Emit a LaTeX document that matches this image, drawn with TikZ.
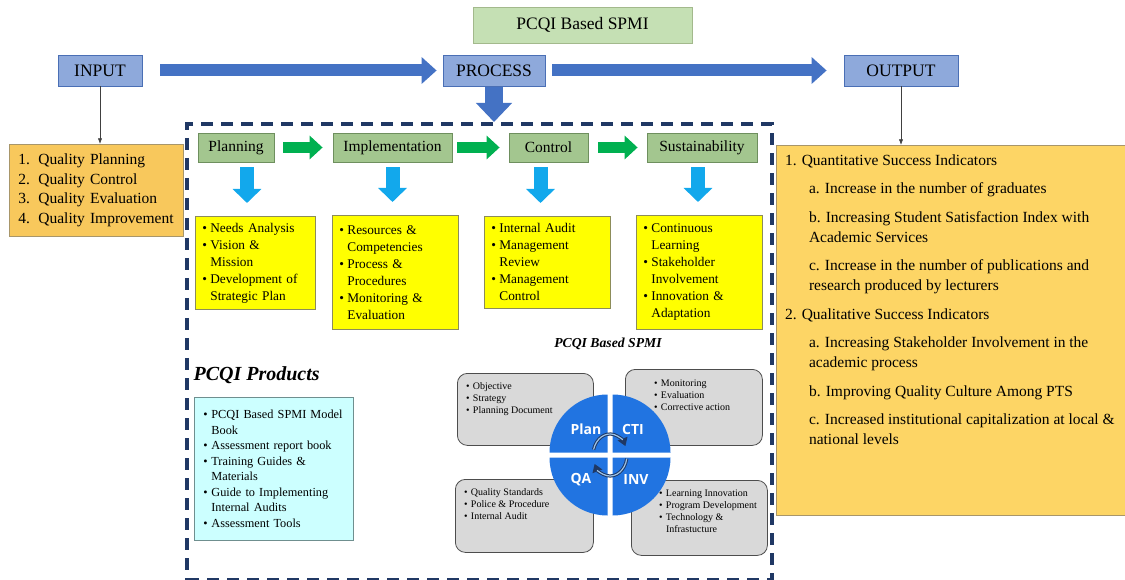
\documentclass[tikz,border=0pt]{standalone}
\usepackage{fontspec}
\setmainfont{Liberation Serif}
\newfontfamily\quadfont{Open Sans}
\usepackage{xcolor}
\usetikzlibrary{arrows.meta, positioning, calc}
\definecolor{TitleGreen}{HTML}{C5E0B4}
\definecolor{TitleEdge}{HTML}{A3B98C}
\definecolor{IOBlue}{HTML}{8EA9DB}
\definecolor{IOEdge}{HTML}{4A6FB5}
\definecolor{BigBlue}{HTML}{4472C4}
\definecolor{StageGreen}{HTML}{A3C68F}
\definecolor{StageEdge}{HTML}{6E8F5E}
\definecolor{ArrowGreen}{HTML}{00B050}
\definecolor{ArrowCyan}{HTML}{12A8EC}
\definecolor{ListYellow}{HTML}{FFFF00}
\definecolor{ListEdge}{HTML}{8C8C5A}
\definecolor{QualOrange}{HTML}{F8C85C}
\definecolor{OutOrange}{HTML}{FDD565}
\definecolor{OrangeEdge}{HTML}{A8966A}
\definecolor{ProdCyan}{HTML}{CCFFFF}
\definecolor{ProdEdge}{HTML}{6F8F8F}
\definecolor{GrayFill}{HTML}{D9D9D9}
\definecolor{GrayEdge}{HTML}{4D4D4D}
\definecolor{QuadBlue}{HTML}{2174E1}
\definecolor{CycleDark}{HTML}{1F3864}
\definecolor{CycleLight}{HTML}{9DC3E6}
\definecolor{FrameNavy}{HTML}{203864}

\newcommand{\bul}[1][8pt]{\makebox[#1][l]{\textbullet}}
\newcommand{\bind}[1][8pt]{\hspace*{#1}}

\begin{document}
\begin{tikzpicture}[x=1pt, y=-1pt, node distance=1cm, >=Latex]
    \tikzstyle{titlebox} = [rectangle, draw=TitleEdge, fill=TitleGreen, thick, minimum height=36pt, font=\fontsize{17.5}{21}\selectfont]
    \tikzstyle{iobox} = [rectangle, draw=IOEdge, fill=IOBlue, thick, minimum height=31pt, font=\fontsize{17.5}{21}\selectfont]
    \tikzstyle{stagebox} = [rectangle, draw=StageEdge, fill=StageGreen, thick, minimum height=29pt, font=\fontsize{15.5}{19}\selectfont]
    \tikzstyle{listbox} = [rectangle, draw=ListEdge, fill=ListYellow, thick, anchor=north west, inner xsep=7pt, align=left, font=\fontsize{13.3}{17}\selectfont]
    \tikzstyle{qualbox} = [rectangle, draw=OrangeEdge, fill=QualOrange, thick, anchor=north west, inner xsep=9pt, align=left, font=\fontsize{15.5}{19.5}\selectfont]
    \tikzstyle{outbox} = [rectangle, draw=OrangeEdge, fill=OutOrange, thick, anchor=north west]
    \tikzstyle{outtext} = [inner sep=0pt, outer sep=0pt, align=left, font=\fontsize{15.5}{20}\selectfont]
    \tikzstyle{prodbox} = [rectangle, draw=ProdEdge, fill=ProdCyan, thick, anchor=north west, inner xsep=9pt, align=left, font=\fontsize{12.3}{15.5}\selectfont]
    \tikzstyle{graybox} = [rectangle, draw=GrayEdge, fill=GrayFill, thick, rounded corners=10pt, anchor=north west]
    \tikzstyle{smalltext} = [inner sep=0pt, outer sep=0pt, align=left, font=\fontsize{10}{11.8}\selectfont]
    \tikzstyle{quadlabel} = [text=white, font=\quadfont\bfseries\fontsize{14}{16}\selectfont]
    \tikzstyle{heading} = [font=\bfseries\itshape]
    \tikzstyle{dashframe} = [rectangle, draw=FrameNavy, line width=4pt, dash pattern=on 12pt off 8pt, anchor=north west]
    \tikzstyle{bigline} = [draw=BigBlue, line width=12pt, -{Triangle[length=15pt, width=26pt]}]
    \tikzstyle{greenline} = [draw=ArrowGreen, line width=11pt, -{Triangle[length=13pt, width=23pt]}]
    \tikzstyle{cyanline} = [draw=ArrowCyan, line width=14pt, -{Triangle[length=14pt, width=28pt]}, shorten <=5pt, shorten >=13pt]
    \tikzstyle{thinline} = [draw, ->, black!75, semithick]

    \useasboundingbox (0,0) rectangle (1125,580);

    % input - process - output
    \node [titlebox, minimum width=219pt] (title) at (582.5,25) {PCQI Based SPMI};
    \node [iobox, minimum width=84pt] (input) at (100,70.5) {INPUT};
    \node [iobox, minimum width=102pt] (process) at (494,70.5) {PROCESS};
    \node [iobox, minimum width=114pt] (output) at (901,70.5) {OUTPUT};
    \path [bigline, shorten <=18pt, shorten >=6pt] (input) -- (process);
    \path [bigline, shorten <=7pt, shorten >=17pt] (process) -- (output);

    \node [dashframe, minimum width=585pt, minimum height=456pt] (frame) at (185,122) {};
    \path [bigline, line width=18pt, -{Triangle[length=19pt, width=35pt]}, shorten <=1pt] (process.south) -- (process.south |- frame.north);

    \node [qualbox, text width=156pt, minimum height=92pt] (quality) at (9,144)
        {\makebox[20pt][l]{1.}Quality Planning\\ \makebox[20pt][l]{2.}Quality Control\\
         \makebox[20pt][l]{3.}Quality Evaluation\\ \makebox[20pt][l]{4.}Quality Improvement};
    \path [thinline] (input) -- (input |- quality.north);

    \node [outbox, minimum width=352pt, minimum height=370pt] (outbox) at (776,145) {};
    \node [outtext, below right=9.5pt and 9pt of outbox.north west] (outlist)
        {1. Quantitative Success Indicators\\[8.5pt]
         \bind[24pt]a. Increase in the number of graduates\\[8.5pt]
         \bind[24pt]b. Increasing Student Satisfaction Index with\\
         \bind[24pt]Academic Services\\[8.5pt]
         \bind[24pt]c. Increase in the number of publications and\\
         \bind[24pt]research produced by lecturers\\[8.5pt]
         2. Qualitative Success Indicators\\[8.5pt]
         \bind[24pt]a. Increasing Stakeholder Involvement in the\\
         \bind[24pt]academic process\\[8.5pt]
         \bind[24pt]b. Improving Quality Culture Among PTS\\[8.5pt]
         \bind[24pt]c. Increased institutional capitalization at local \&\\
         \bind[24pt]national levels};
    \path [thinline] (output) -- (output |- outbox.north);

    % stages
    \node [stagebox, minimum width=76pt] (planning) at (236,147.5) {Planning};
    \node [stagebox, minimum width=119pt] (implementation) at (392.5,147.5) {Implementation};
    \node [stagebox, minimum width=79pt] (control) at (548.5,147.5) {Control};
    \node [stagebox, minimum width=110pt] (sustainability) at (702,147.5) {Sustainability};
    \path [greenline, shorten <=9pt, shorten >=10pt] (planning) -- (implementation);
    \path [greenline, shorten <=5pt, shorten >=9pt] (implementation) -- (control);
    \path [greenline, shorten <=10pt, shorten >=9pt] (control) -- (sustainability);

    \node [listbox, text width=106pt, minimum height=93pt] (planlist) at (195,216)
        {\bul Needs Analysis\\ \bul Vision \&\\ \bind Mission\\ \bul Development of\\ \bind Strategic Plan};
    \node [listbox, text width=112pt, minimum height=114pt] (impllist) at (332,215)
        {\bul Resources \&\\ \bind Competencies\\ \bul Process \&\\ \bind Procedures\\ \bul Monitoring \&\\ \bind Evaluation};
    \node [listbox, text width=112pt, minimum height=92pt] (ctrllist) at (484,216)
        {\bul Internal Audit\\ \bul Management\\ \bind Review\\ \bul Management\\ \bind Control};
    \node [listbox, text width=112pt, minimum height=114pt] (sustlist) at (636,215)
        {\bul Continuous\\ \bind Learning\\ \bul Stakeholder\\ \bind Involvement\\ \bul Innovation \&\\ \bind Adaptation};
    \path [cyanline] ([xshift=11pt]planning.south) -- ([xshift=11pt]planning.south |- planlist.north);
    \path [cyanline] (implementation.south) -- (implementation.south |- impllist.north);
    \path [cyanline] ([xshift=-8pt]control.south) -- ([xshift=-8pt]control.south |- ctrllist.north);
    \path [cyanline] ([xshift=-4pt]sustainability.south) -- ([xshift=-4pt]sustainability.south |- sustlist.north);

    % products
    \node [heading, font=\bfseries\itshape\fontsize{20}{24}\selectfont, anchor=west] (products) at (190,375) {PCQI Products};
    \node [prodbox, text width=141pt, minimum height=143pt] (prodlist) at (194,397)
        {\bul PCQI Based SPMI Model\\ \bind Book\\ \bul Assessment report book\\ \bul Training Guides \&\\ \bind Materials\\
         \bul Guide to Implementing\\ \bind Internal Audits\\ \bul Assessment Tools};

    % cycle
    \node [heading, font=\bfseries\itshape\fontsize{13.7}{16}\selectfont] (cycletitle) at (608,344) {PCQI Based SPMI};
    \node [graybox, minimum width=136pt, minimum height=72pt] (objbox) at (457,373) {};
    \node [graybox, minimum width=137pt, minimum height=76pt] (monbox) at (625,369) {};
    \node [graybox, minimum width=138pt, minimum height=73pt] (stdbox) at (455,479) {};
    \node [graybox, minimum width=136pt, minimum height=75pt] (innbox) at (631,480) {};
    \node [smalltext, below right=10pt and 9pt of objbox.north west] (objtext)
        {\bul[7pt]Objective\\ \bul[7pt]Strategy\\ \bul[7pt]Planning Document};
    \node [smalltext, below right=11pt and 29pt of monbox.north west] (montext)
        {\bul[7pt]Monitoring\\ \bul[7pt]Evaluation\\ \bul[7pt]Corrective action};
    \node [smalltext, below right=10pt and 9pt of stdbox.north west] (stdtext)
        {\bul[7pt]Quality Standards\\ \bul[7pt]Police \& Procedure\\ \bul[7pt]Internal Audit};
    \node [smalltext, below right=10pt and 28pt of innbox.north west] (inntext)
        {\bul[7pt]Learning Innovation\\ \bul[7pt]Program Development\\ \bul[7pt]Technology \&\\ \bind[7pt]Infrastucture};

    \coordinate (cyc) at (610,455);
    \foreach \a/\dx/\dy in {90/-2.5/-2.5, 0/2.5/-2.5, 180/-2.5/2.5, 270/2.5/2.5}
        \fill [QuadBlue] ($(cyc)+(\dx,\dy)$) -- ++(\a:58pt) arc [start angle=\a, delta angle=90, radius=58pt] -- cycle;
    \node [quadlabel] (plan) at (586,429) {Plan};
    \node [quadlabel] (cti) at (633,429) {CTI};
    \node [quadlabel] (qa) at (581,480) {QA};
    \node [quadlabel] (inv) at (636,480) {INV};
    \foreach \s/\e in {165/25, -10/-155} {
        \draw [CycleDark, line width=3.2pt, -{Triangle[length=8pt, width=10pt]}]
            ($(cyc)+(\s:17pt and 21pt)$) arc [start angle=\s, end angle=\e, x radius=17pt, y radius=21pt];
        \draw [CycleLight, line width=1.2pt, shorten >=7pt]
            ($(cyc)+(\s:17pt and 21pt)$) arc [start angle=\s, end angle=\e, x radius=17pt, y radius=21pt];
    }
\end{tikzpicture}
\end{document}
